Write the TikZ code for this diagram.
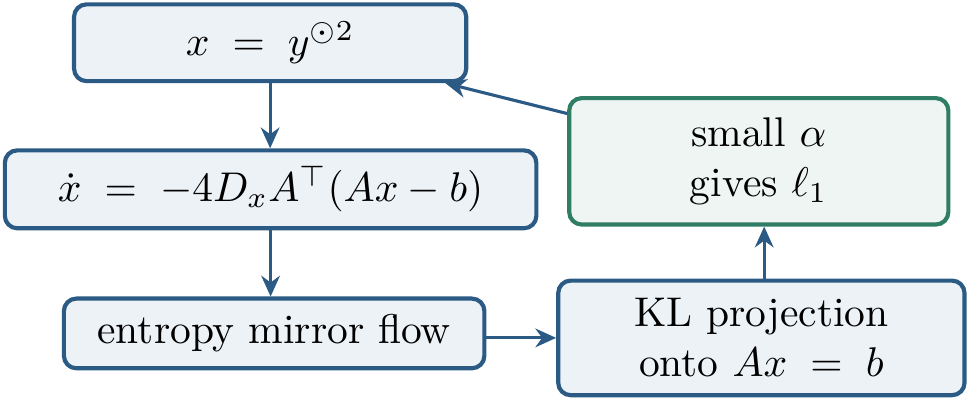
\documentclass[tikz,border=0pt]{standalone}
\usepackage{amsmath, amssymb}
\usepackage{tikz}
\usetikzlibrary{arrows.meta, positioning, calc}
\definecolor{flowBlue}{HTML}{2B5A84}
\definecolor{flowBlueFill}{HTML}{EDF2F6}
\definecolor{flowGreen}{HTML}{2E7D64}
\definecolor{flowGreenFill}{HTML}{EEF5F2}

\begin{document}
\begin{tikzpicture}[
  box/.style={draw=flowBlue, fill=flowBlueFill, line width=1pt, rounded corners=3pt,
    align=center, inner sep=2pt},
  goal/.style={box, draw=flowGreen, fill=flowGreenFill},
  link/.style={-{Stealth[length=5pt, width=4.5pt]}, flowBlue, line width=0.75pt}
]
  \useasboundingbox (0,0) rectangle (8.28,3.39);
  % left column: reparametrisation -> gradient flow -> mirror flow
  \node[box, minimum width=3.32cm, minimum height=0.65cm] (param) at (2.287, 3.028)
    {$x \;=\; y^{\odot 2}$};
  \node[box, minimum width=4.50cm, minimum height=0.66cm] (grad) at (2.291, 1.787)
    {$\dot{x} \;=\; -4D_xA^{\top}(Ax - b)$};
  \node[box, minimum width=3.56cm, minimum height=0.59cm] (mirror) at (2.321, 0.567)
    {entropy mirror flow};
  % right column: projection -> implicit bias
  \node[box, minimum width=3.44cm, minimum height=0.97cm] (proj) at (6.446, 0.529)
    {KL projection\\ onto $Ax \;=\; b$};
  \node[goal, minimum width=3.21cm, minimum height=1.07cm] (bias) at (6.424, 2.024)
    {small $\alpha$\\ gives $\ell_1$};
  % connectors
  \draw[link] (param.south) -- (param.south |- grad.north);
  \draw[link] (grad.south) -- (grad.south |- mirror.north);
  \draw[link] (mirror.east |- proj.west) -- (proj.west);
  \draw[link] (proj.north -| 6.47, 0) -- (6.47, 0 |- bias.south);
  \draw[link] (bias.166) -- (param.-13);
\end{tikzpicture}
\end{document}
